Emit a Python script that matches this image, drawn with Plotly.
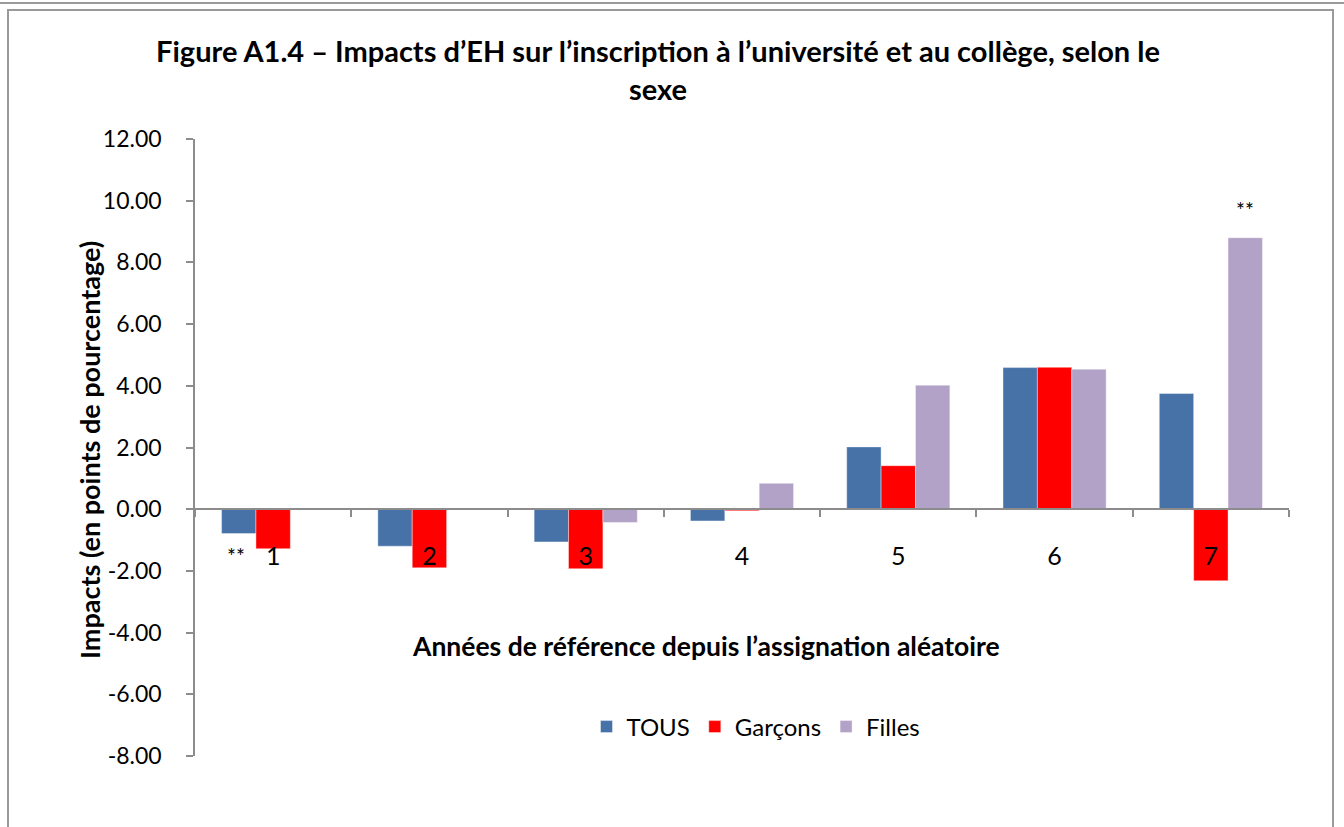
import plotly.graph_objects as go

categories = ["1", "2", "3", "4", "5", "6", "7"]
tous = [-0.79, -1.20, -1.06, -0.38, 2.02, 4.59, 3.75]
garcons = [-1.28, -1.90, -1.93, -0.05, 1.41, 4.60, -2.32]
filles = [0.0, 0.0, -0.43, 0.84, 4.02, 4.54, 8.80]
series_names = ["TOUS", "Garçons", "Filles"]
colors = ["#4672A8", "#FF0000", "#B3A2C7"]
y_ticks = [-8, -6, -4, -2, 0, 2, 4, 6, 8, 10, 12]
y_tick_text = [f"{v:.2f}" for v in y_ticks]

FONT = "Lato"
W, H = 1344, 827
L, R, T, B = 195, 55, 139, 71
pw, ph = W - L - R, H - T - B

def px_x(p):
    return (p - L) / pw

def px_y(p):
    return (H - B - p) / ph

fig = go.Figure()
for name, vals, col in zip(series_names, [tous, garcons, filles], colors):
    fig.add_trace(go.Bar(
        x=categories, y=vals, name=name,
        marker=dict(color=col, line=dict(color="rgba(255,255,255,0.5)", width=0.8)),
    ))

fig.update_layout(
    width=W, height=H,
    margin=dict(l=L, r=R, t=T, b=B),
    paper_bgcolor="white", plot_bgcolor="white",
    barmode="group", bargap=0.34, bargroupgap=0,
    font=dict(family=FONT, color="black"),
    title=dict(
        text="Figure A1.4 – Impacts d’EH sur l’inscription à l’université et au collège, selon le<br>sexe",
        font=dict(family=FONT, size=29, color="black", weight="bold"),
        xref="container", x=658 / W, xanchor="center",
        yref="container", y=1 - 62 / H, yanchor="middle",
    ),
    showlegend=True,
    legend=dict(
        orientation="h", x=px_x(756), xanchor="center", y=px_y(727), yanchor="middle",
        font=dict(family=FONT, size=24), itemwidth=30, bgcolor="rgba(0,0,0,0)",
    ),
    xaxis=dict(
        type="category", anchor="free", position=8 / 20,
        showline=True, linecolor="#8C8C8C", linewidth=1.5,
        ticks="outside", ticklen=7, tickcolor="#8C8C8C", tickwidth=1.5,
        tickson="boundaries", showgrid=False,
        tickfont=dict(family=FONT, size=25), ticklabelstandoff=25,
    ),
    yaxis=dict(
        range=[-8, 12], tickvals=y_ticks, ticktext=y_tick_text,
        showline=True, linecolor="#8C8C8C", linewidth=1.5,
        ticks="outside", ticklen=7, tickcolor="#8C8C8C", tickwidth=1.5,
        showgrid=False, zeroline=False,
        tickfont=dict(family=FONT, size=23), ticklabelstandoff=20,
    ),
)

fig.add_annotation(
    text="<b>Impacts (en points de pourcentage)</b>", textangle=-90,
    xref="paper", yref="paper", x=px_x(90), y=px_y(450),
    xanchor="center", yanchor="middle",
    showarrow=False, font=dict(family=FONT, size=27),
)
fig.add_annotation(
    text="<b>Années de référence depuis l’assignation aléatoire</b>",
    xref="paper", yref="paper", x=px_x(706), y=px_y(646),
    xanchor="center", yanchor="middle",
    showarrow=False, font=dict(family=FONT, size=26.5),
)
fig.add_annotation(text="**", xref="paper", yref="y", x=px_x(236), y=-1.5,
                   xanchor="center", yanchor="middle",
                   showarrow=False, font=dict(family=FONT, size=21))
fig.add_annotation(text="**", xref="paper", yref="y", x=px_x(1245), y=9.7,
                   xanchor="center", yanchor="middle",
                   showarrow=False, font=dict(family=FONT, size=21))

# page frame
fig.add_shape(type="line", xref="paper", yref="paper", x0=px_x(0), x1=px_x(1344),
              y0=px_y(3), y1=px_y(3), line=dict(color="#9A9A9A", width=2))
fig.add_shape(type="rect", xref="paper", yref="paper", x0=px_x(8), x1=px_x(1333),
              y0=px_y(840), y1=px_y(10), line=dict(color="#9A9A9A", width=2))

fig.write_html("out.html", config={"displayModeBar": False},
               post_script="document.body.style.margin='0';")
